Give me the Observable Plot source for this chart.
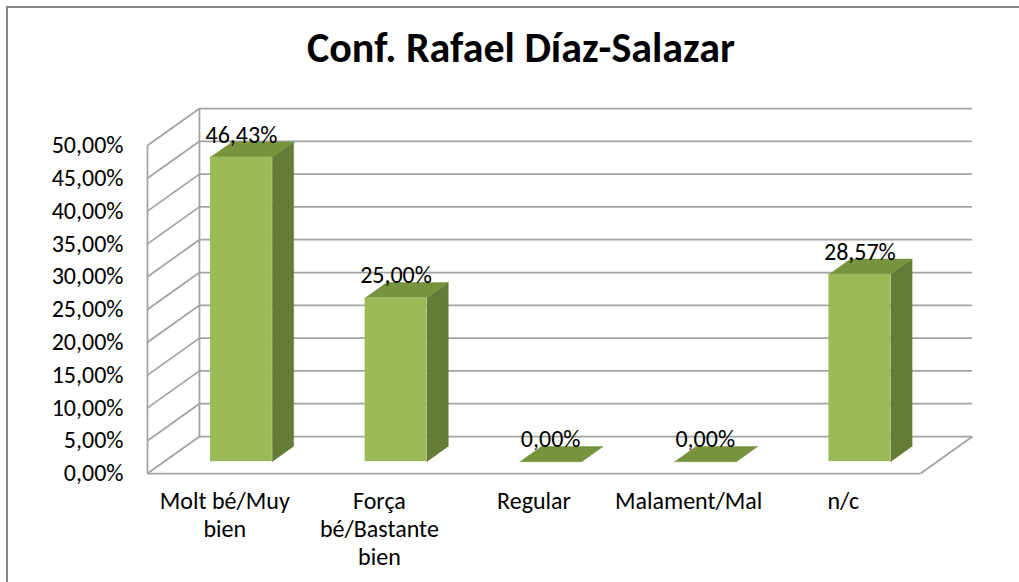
<!DOCTYPE html>
<html>
<head>
<meta charset="utf-8">
<script src="https://cdn.jsdelivr.net/npm/d3@7"></script>
<script src="https://cdn.jsdelivr.net/npm/@observablehq/plot@0.6"></script>
<style>
  html, body { margin: 0; padding: 0; background: #fff; width: 1019px; height: 582px; overflow: hidden; }
  #frame { position: absolute; left: 6px; top: 6px; width: 1100px; height: 700px; border: 2px solid #858585; box-sizing: border-box; }
  #title { position: absolute; left: 0; top: 27px; width: 1042px; text-align: center; font-family: Carlito, Calibri, Lato, sans-serif; font-weight: bold; font-size: 42px; line-height: 1; color: #000; }
  #chart { position: absolute; left: 0; top: 80px; }
</style>
</head>
<body>
<div id="frame"></div>
<div id="title">Conf. Rafael Díaz-Salazar</div>
<div id="chart"></div>
<script>
const categories = ["Molt bé/Muy\nbien", "Força\nbé/Bastante\nbien", "Regular", "Malament/Mal", "n/c"];
const values = [0.4643, 0.25, 0, 0, 0.2857];
const valueLabels = ["46,43%", "25,00%", "0,00%", "0,00%", "28,57%"];
const yTicks = [0, 0.05, 0.10, 0.15, 0.20, 0.25, 0.30, 0.35, 0.40, 0.45, 0.50];

// 3D box depth (in data units) and bar placement within the depth
const DX = 0.336, DY = 0.0564;
const D1 = 0.32, D2 = 0.73, HW = 0.2;

const n = categories.length;
const yMax = yTicks[yTicks.length - 1];
const fmtPct = d => (d * 100).toFixed(2).replace(".", ",") + "%";

const bars = values.map((v, i) => {
  const x1 = i + 0.5 - HW + D1 * DX;
  const x2 = i + 0.5 + HW + D1 * DX;
  const sx = (D2 - D1) * DX;
  return {i, v, label: valueLabels[i], x1, x2, sx, b1: D1 * DY, b2: D2 * DY, t1: v + D1 * DY, t2: v + D2 * DY, cx: i + 0.5 + D1 * DX};
});
const sides = bars.flatMap(b => [
  {id: b.i, x: b.x2, y: b.b1}, {id: b.i, x: b.x2, y: b.t1},
  {id: b.i, x: b.x2 + b.sx, y: b.t2}, {id: b.i, x: b.x2 + b.sx, y: b.b2}
]);
const tops = bars.flatMap(b => [
  {id: b.i, x: b.x1, y: b.t1}, {id: b.i, x: b.x2, y: b.t1},
  {id: b.i, x: b.x2 + b.sx, y: b.t2}, {id: b.i, x: b.x1 + b.sx, y: b.t2}
]);
// wall / floor edges
const edges = [
  {x1: 0, y1: 0, x2: 0, y2: yMax},
  {x1: DX, y1: DY, x2: DX, y2: yMax + DY},
  {x1: 0, y1: 0, x2: n, y2: 0},
  {x1: n, y1: 0, x2: n + DX, y2: DY}
];
const centers = categories.map((c, i) => i + 0.5);

const lineColor = "#a3a3a3";
const plot = Plot.plot({
  width: 1019,
  height: 502,
  marginLeft: 147,
  marginRight: 47,
  marginTop: 28,
  marginBottom: 109,
  x: {domain: [0, n + DX]},
  y: {domain: [0, yMax + DY]},
  style: {fontFamily: "Carlito, Calibri, Lato, sans-serif", fontSize: "24px", color: "#000", background: "transparent", overflow: "visible"},
  marks: [
    Plot.ruleY(yTicks, {y: t => t + DY, x1: () => DX, x2: () => n + DX, stroke: lineColor, strokeWidth: 1.75}),
    Plot.link(yTicks, {x1: () => 0, y1: t => t, x2: () => DX, y2: t => t + DY, stroke: lineColor, strokeWidth: 1.75}),
    Plot.link(edges, {x1: "x1", y1: "y1", x2: "x2", y2: "y2", stroke: lineColor, strokeWidth: 1.75}),
    Plot.line(sides, {x: "x", y: "y", z: "id", fill: "#657c37", stroke: "#657c37", strokeWidth: 0.5}),
    Plot.line(tops, {x: "x", y: "y", z: "id", fill: "#77933d", stroke: "#77933d", strokeWidth: 0.5}),
    Plot.rect(bars, {x1: "x1", x2: "x2", y1: "b1", y2: "t1", fill: "#9bbb59"}),
    Plot.text(bars, {x: "cx", y: "t1", text: "label", dy: -22, fill: "#000", fontSize: 24}),
    Plot.axisY(yTicks, {tickSize: 0, tickPadding: 24, tickFormat: fmtPct, label: null, fontSize: 24, fill: "#000"}),
    Plot.axisX(centers, {tickSize: 0, tickPadding: 16, tickFormat: d => categories[Math.round(d - 0.5)], label: null, fontSize: 24, lineHeight: 1.16, fill: "#000"})
  ]
});
document.getElementById("chart").appendChild(plot);
</script>
</body>
</html>
